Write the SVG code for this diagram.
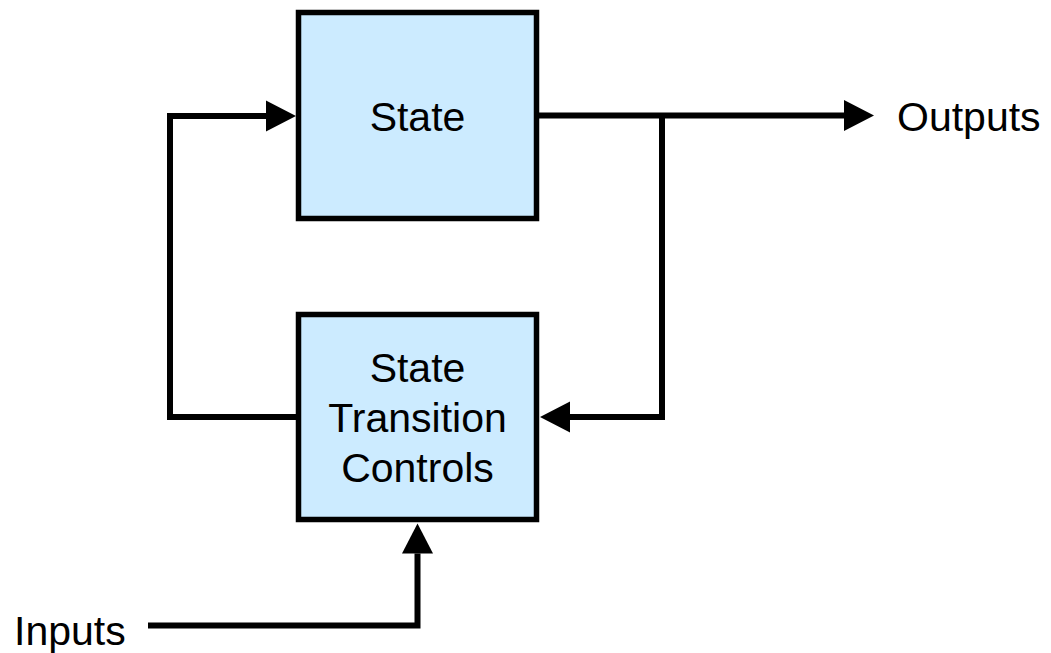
<svg xmlns="http://www.w3.org/2000/svg" width="1051" height="653" viewBox="0 0 1051 653">
<style>
.box{fill:#CCEBFF;stroke:#000;stroke-width:5.5}
.lbl{font-family:"Liberation Sans",Arial,sans-serif;font-size:41px;fill:#000}
.c{text-anchor:middle}
.wire{fill:none;stroke:#000;stroke-width:6;stroke-linejoin:miter;stroke-linecap:butt}
</style>
<defs>
<marker id="ah" markerUnits="userSpaceOnUse" markerWidth="31" markerHeight="32" refX="0" refY="15.5" orient="auto" overflow="visible">
<path d="M0,0 L30,15.5 L0,31 Z" fill="#000"/>
</marker>
</defs>
<g id="connectors">
<path class="wire" d="M297,417 H170 V116 H266" marker-end="url(#ah)"/>
<path class="wire" d="M538,115.5 H844" marker-end="url(#ah)"/>
<path class="wire" d="M662,115.5 V417 H570" marker-end="url(#ah)"/>
<path class="wire" d="M148,625.5 H417.5 V553.5" marker-end="url(#ah)"/>
</g>
<g id="state">
<rect class="box" x="298.5" y="12.5" width="238" height="206"/>
<text class="lbl c" x="417.5" y="131">State</text>
</g>
<g id="stc">
<rect class="box" x="298.5" y="314.5" width="238" height="205"/>
<text class="lbl c" x="417.5" y="382">State</text>
<text class="lbl c" x="417.5" y="432">Transition</text>
<text class="lbl c" x="417.5" y="482">Controls</text>
</g>
<g id="outputs">
<text class="lbl" x="897" y="131">Outputs</text>
</g>
<g id="inputs">
<text class="lbl" x="14" y="645">Inputs</text>
</g>
</svg>
